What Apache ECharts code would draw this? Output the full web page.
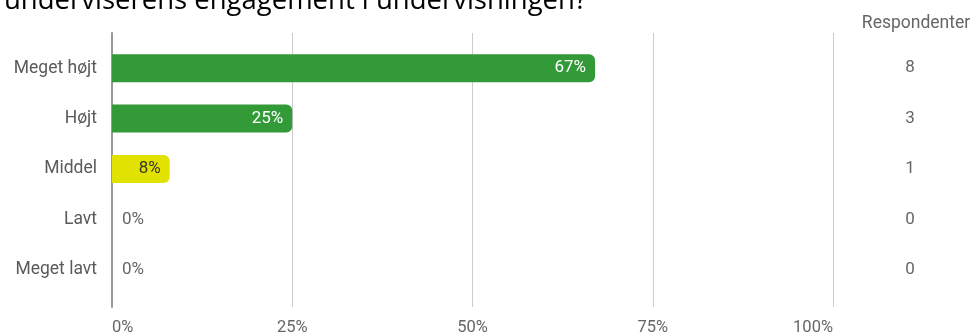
<!DOCTYPE html>
<html>
<head>
<meta charset="utf-8">
<script src="https://cdn.jsdelivr.net/npm/echarts@6/dist/echarts.min.js"></script>
<style>
  html, body { margin: 0; padding: 0; background: #fff; }
  #chart { width: 970px; height: 336px; }
</style>
</head>
<body>
<div id="chart"></div>
<script>
// Svarkategorier, andel i procent og antal respondenter
const categories = ['Meget højt', 'Højt', 'Middel', 'Lavt', 'Meget lavt'];
const percentages = [67, 25, 8, 0, 0];
const respondents = [8, 3, 1, 0, 0];
const barColors = ['#339a38', '#339a38', '#e2e200', '#339a38', '#339a38'];
const labelColors = ['#ffffff', '#ffffff', '#333333', '#666666', '#666666'];
const xTicks = [0, 25, 50, 75, 100];

const LEFT = 112, RIGHT = 970 - 833;

const chart = echarts.init(document.getElementById('chart'), null, { renderer: 'canvas' });

chart.setOption({
  animation: false,
  textStyle: { fontFamily: 'Roboto' },
  title: [{
    text: 'underviserens engagement i undervisningen?',
    left: -1, top: -18,
    textStyle: { fontFamily: 'Open Sans', fontSize: 27.5, fontWeight: 'normal', color: '#000' }
  }, {
    text: 'Respondenter',
    left: 911, top: 10, textAlign: 'center',
    textStyle: { fontFamily: 'Roboto', fontSize: 17.5, fontWeight: 'normal', color: '#666' }
  }],
  grid: [
    { left: LEFT, right: RIGHT, top: 33, bottom: 29 },
    { left: LEFT, right: RIGHT, top: 43, height: 252 }
  ],
  xAxis: [{
    gridIndex: 0, type: 'value', min: 0, max: 100, interval: 25,
    axisLine: { show: false }, axisTick: { show: false },
    splitLine: { lineStyle: { color: '#cccccc', width: 1 } },
    axisLabel: {
      color: '#666', fontSize: 16.5, margin: 12,
      alignMinLabel: 'left', alignMaxLabel: 'right',
      formatter: v => xTicks.includes(v) ? v + '%' : ''
    }
  }, {
    gridIndex: 1, type: 'value', min: 0, max: 100, show: false
  }],
  yAxis: [{
    gridIndex: 0, type: 'value', min: 0, max: 1, show: true,
    axisLabel: { show: false }, axisTick: { show: false }, splitLine: { show: false },
    axisLine: { show: true, lineStyle: { color: '#999999', width: 2 } }
  }, {
    gridIndex: 1, type: 'category', data: categories, inverse: true,
    axisLine: { show: false }, axisTick: { show: false },
    axisLabel: { color: '#5a5a5a', fontSize: 17.5, margin: 15 }
  }, {
    gridIndex: 1, type: 'category', data: respondents.map(String), inverse: true,
    position: 'right',
    axisLine: { show: false }, axisTick: { show: false },
    axisLabel: { color: '#666', fontSize: 17, margin: 77, align: 'center' }
  }],
  series: [{
    type: 'bar',
    xAxisIndex: 1, yAxisIndex: 1,
    barWidth: 28,
    data: percentages.map((v, i) => ({
      value: v,
      itemStyle: { color: barColors[i], borderRadius: [0, 6, 6, 0] },
      label: {
        show: true,
        position: v > 0 ? 'insideRight' : 'right',
        distance: v > 0 ? 9 : 10,
        color: labelColors[i],
        fontSize: 17,
        formatter: v + '%'
      }
    }))
  }]
});
</script>
</body>
</html>
